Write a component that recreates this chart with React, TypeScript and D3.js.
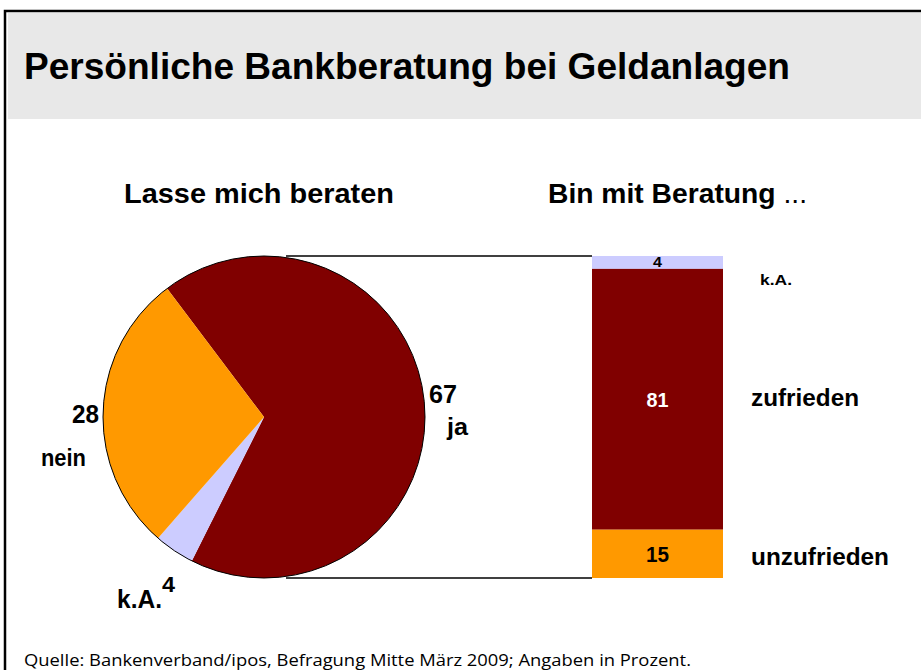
import React from "react";
import * as d3 from "d3";

const pieCategories = ["ja", "k.A.", "nein"];
const pieValues = [67, 4, 28];
const barCategories = ["k.A.", "zufrieden", "unzufrieden"];
const barValues = [4, 81, 15];
const colors: Record<string, string> = { ja: "#800000", zufrieden: "#800000", nein: "#FF9900", unzufrieden: "#FF9900", "k.A.": "#CCCCFF" };

const title = "Persönliche Bankberatung bei Geldanlagen";
const pieTitle = "Lasse mich beraten";
const barTitle = "Bin mit Beratung";
const source = "Quelle: Bankenverband/ipos, Befragung Mitte März 2009; Angaben in Prozent.";

function T(props: { x: number; y: number; size: number; len?: number; fill?: string; weight?: string; anchor?: string; family?: string; children: React.ReactNode }) {
  const { x, y, size, len, fill = "#000", weight = "bold", anchor = "start", family, children } = props;
  return (
    <text
      x={x}
      y={y}
      fontSize={size}
      fontWeight={weight}
      fill={fill}
      textAnchor={anchor as any}
      fontFamily={family}
      textLength={len}
      lengthAdjust={len ? "spacingAndGlyphs" : undefined}
    >
      {children}
    </text>
  );
}

export default function App() {
  const W = 921, H = 670;
  const cx = 264, cy = 417, r = 161;
  const pie = d3.pie<number>().sort(null).value((d) => d).startAngle((-37 * Math.PI) / 180).endAngle((323 * Math.PI) / 180);
  const arcs = pie(pieValues);
  const arcGen = d3.arc<d3.PieArcDatum<number>>().innerRadius(0).outerRadius(r);

  const barTop = 256, barBottom = 578, barX = 592, barW = 131;
  const y = d3.scaleLinear().domain([0, d3.sum(barValues)]).range([barTop, barBottom]);
  let acc = 0;
  const segs = barValues.map((v, i) => {
    const s = { cat: barCategories[i], v, y0: y(acc), y1: y(acc + v) };
    acc += v;
    return s;
  });
  const font = "Liberation Sans, Arial, sans-serif";
  const barValueStyles = [
    { size: 14, fill: "#000", len: 9 },
    { size: 21, fill: "#fff", len: 22 },
    { size: 22, fill: "#000", len: 23 },
  ];
  const rightLabelPos = [
    { x: 760, y: 285, size: 15, len: 32 },
    { x: 751, y: 406, size: 24, len: 108 },
    { x: 751, y: 565, size: 24, len: 138 },
  ];

  return (
    <svg width={W} height={H} style={{ position: "absolute", left: 0, top: 0, background: "#fff" }} fontFamily={font}>
      <rect x={8} y={13} width={W} height={106} fill="#E8E8E8" />
      <path d={`M5,${H + 10} V11 H${W + 10}`} fill="none" stroke="#000" strokeWidth={2.5} />
      <T x={24} y={79} size={36} len={766}>{title}</T>

      <T x={124} y={203} size={28} len={270}>{pieTitle}</T>
      <text x={548} y={203} fontSize={28} fontWeight="bold" textLength={259} lengthAdjust="spacingAndGlyphs">
        {barTitle}
        <tspan fontWeight="normal"> ...</tspan>
      </text>

      <line x1={286} x2={barX} y1={barTop} y2={barTop} stroke="#000" strokeWidth={1.5} />
      <line x1={286} x2={barX} y1={barBottom} y2={barBottom} stroke="#000" strokeWidth={1.5} />

      <g transform={`translate(${cx},${cy})`}>
        {arcs.map((a, i) => (
          <path key={i} d={arcGen(a) || ""} fill={colors[pieCategories[i]]} />
        ))}
        <circle r={r} fill="none" stroke="#000" strokeWidth={1} />
      </g>

      <T x={429} y={403} size={25} len={28}>{pieValues[0]}</T>
      <T x={447} y={435} size={24} len={21}>{pieCategories[0]}</T>
      <T x={72} y={423} size={25} len={27}>{pieValues[2]}</T>
      <T x={41} y={466} size={24} len={45}>{pieCategories[2]}</T>
      <T x={117} y={608} size={25} len={45}>{pieCategories[1]}</T>
      <T x={162} y={592} size={22} len={13}>{pieValues[1]}</T>

      {segs.map((s, i) => (
        <g key={s.cat}>
          <rect x={barX} y={s.y0} width={barW} height={s.y1 - s.y0} fill={colors[s.cat]} />
          <text
            x={barX + barW / 2}
            y={(s.y0 + s.y1) / 2}
            dy="0.36em"
            textAnchor="middle"
            fontSize={barValueStyles[i].size}
            fontWeight="bold"
            fill={barValueStyles[i].fill}
            textLength={barValueStyles[i].len}
            lengthAdjust="spacingAndGlyphs"
          >
            {s.v}
          </text>
          <T x={rightLabelPos[i].x} y={rightLabelPos[i].y} size={rightLabelPos[i].size} len={rightLabelPos[i].len}>
            {s.cat}
          </T>
        </g>
      ))}

      <T x={24} y={666} size={17} len={667} weight="normal" family="Open Sans, sans-serif">{source}</T>
    </svg>
  );
}
